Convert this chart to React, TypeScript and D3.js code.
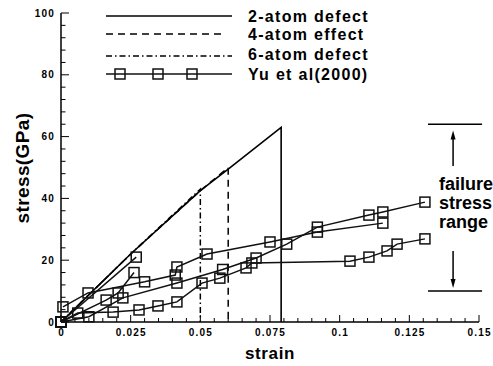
import React from "react";
import * as d3 from "d3";

// ---------- data ----------
const xTicks = [0, 0.025, 0.05, 0.075, 0.1, 0.125, 0.15];
const xTickLabels = ["0", "0.025", "0.05", "0.075", "0.1", "0.125", "0.15"];
const yTicks = [0, 20, 40, 60, 80, 100];
const yTickLabels = ["0", "20", "40", "60", "80", "100"];

const legendLabels = ["2-atom defect", "4-atom effect", "6-atom defect", "Yu et al(2000)"];

const atom2Strain = [0, 0.025, 0.05, 0.06, 0.079, 0.079];
const atom2Stress = [0, 22, 42.5, 49.5, 63, 0];
const atom4Strain = [0, 0.025, 0.05, 0.06, 0.06];
const atom4Stress = [0, 22, 42.5, 50, 0];
const atom6Strain = [0, 0.025, 0.05, 0.05];
const atom6Stress = [0, 22, 43, 0];

const yu1Strain = [0.0007, 0.0097, 0.03, 0.041, 0.0416, 0.0524, 0.075, 0.092, 0.1155];
const yu1Stress = [4.9, 9.4, 13, 15.2, 17.8, 22, 25.9, 29.1, 32];
const yu2Strain = [0, 0.01, 0.0222, 0.0416, 0.058, 0.07, 0.081, 0.092, 0.1105, 0.1155, 0.1306];
const yu2Stress = [0, 1.7, 7.8, 12.6, 17, 20.7, 25.2, 30.7, 34.6, 35.6, 38.8];
const yu3Strain = [0, 0.027];
const yu3Stress = [0, 21];
const yu4Strain = [0, 0.006, 0.0187, 0.028, 0.0348, 0.0416, 0.0506, 0.057, 0.0664, 0.0685, 0.1037, 0.1105, 0.117, 0.1206, 0.1306];
const yu4Stress = [0, 2.9, 3.2, 3.9, 5.2, 6.5, 12.6, 14.2, 17.5, 19.1, 19.7, 21, 23, 25.2, 26.9];
const yu5Strain = [0, 0.0162, 0.0205, 0.0262];
const yu5Stress = [0, 7.1, 9.4, 16];

// failure stress range annotation (data units)
const failureTop = 64;
const failureBottom = 10;
const failureX = [0.1317, 0.1511];
const failureArrowX = 0.1407;
const arrowUp = [50.5, 62];
const arrowDown = [23, 11];
const failureLines = ["failure", "stress", "range"];

// ---------- layout ----------
const W = 493;
const H = 366;
const FONT = "'Liberation Sans', Arial, Helvetica, sans-serif";

const x = d3.scaleLinear().domain([0, 0.15]).range([61, 479]);
const y = d3.scaleLinear().domain([0, 100]).range([322, 13]);

type P = [number, number];
const zip = (a: number[], b: number[]): P[] => a.map((v, i) => [v, b[i]]);
const line = d3
  .line<P>()
  .x((d) => x(d[0]))
  .y((d) => y(d[1]));

const yuSeries = [
  zip(yu1Strain, yu1Stress),
  zip(yu2Strain, yu2Stress),
  zip(yu3Strain, yu3Stress),
  zip(yu4Strain, yu4Stress),
  zip(yu5Strain, yu5Stress),
];

const xMinor = d3.range(0, 0.15 + 1e-9, 0.005);
const yMinor = d3.range(0, 100 + 1e-9, 4);

const SQ = 10;

export default function App() {
  const legendX0 = 106;
  const legendX1 = 232;
  const legendTextX = 248;
  const legendY = [16, 34, 56, 74];
  const legendBase = [21.5, 39.5, 60, 80];

  const Square = ({ cx, cy }: { cx: number; cy: number }) => (
    <rect x={cx - SQ / 2} y={cy - SQ / 2} width={SQ} height={SQ} fill="none" stroke="#111" strokeWidth={1.5} />
  );

  return (
    <svg
      width={W}
      height={H}
      style={{ position: "absolute", left: 0, top: 0, background: "#fff" }}
      fontFamily={FONT}
    >
      <rect width={W} height={H} fill="#fff" />
      {/* axes */}
      <line x1={x(0)} x2={x(0)} y1={y(0)} y2={y(100)} stroke="#000" strokeWidth={1.5} />
      <line x1={x(0)} x2={x(0.15)} y1={y(0)} y2={y(0)} stroke="#000" strokeWidth={1.5} />
      {yMinor.map((v, i) => (
        <line key={"ym" + i} x1={x(0)} x2={x(0) + (v % 20 === 0 ? 8 : 4.5)} y1={y(v)} y2={y(v)} stroke="#000" strokeWidth={1} />
      ))}
      {xMinor.map((v, i) => (
        <line key={"xm" + i} x1={x(v)} x2={x(v)} y1={y(0)} y2={y(0) - (i % 5 === 0 ? 7 : 4)} stroke="#000" strokeWidth={1} />
      ))}
      {yTicks.map((v, i) => (
        <text key={"yt" + i} x={x(0) - 6} y={y(v) + 3.5} textAnchor="end" fontSize={10} fontWeight="bold" letterSpacing={1.2}>
          {yTickLabels[i]}
        </text>
      ))}
      {xTicks.map((v, i) => (
        <text key={"xt" + i} x={x(v) + 0.6} y={336} textAnchor="middle" fontSize={10} fontWeight="bold" letterSpacing={1.2}>
          {xTickLabels[i]}
        </text>
      ))}
      <text x={270} y={359} textAnchor="middle" fontSize={17} fontWeight="bold" letterSpacing={0.6}>
        strain
      </text>
      <text
        transform={`translate(29,168) rotate(-90)`}
        textAnchor="middle"
        fontSize={19}
        fontWeight="bold"
        letterSpacing={0.4}
      >
        stress(GPa)
      </text>

      {/* MD curves */}
      <path d={line(zip(atom6Strain, atom6Stress)) || ""} fill="none" stroke="#000" strokeWidth={1.5} strokeDasharray="6,3,1.5,3" />
      <path d={line(zip(atom4Strain, atom4Stress)) || ""} fill="none" stroke="#000" strokeWidth={1.5} strokeDasharray="7,5" />
      <path d={line(zip(atom2Strain, atom2Stress)) || ""} fill="none" stroke="#000" strokeWidth={1.6} />

      {/* Yu et al data */}
      {yuSeries.map((s, i) => (
        <g key={"yu" + i}>
          <path d={line(s) || ""} fill="none" stroke="#111" strokeWidth={1.5} />
          {s.map((d, j) => (
            <Square key={j} cx={x(d[0])} cy={y(d[1])} />
          ))}
        </g>
      ))}

      {/* legend */}
      <line x1={legendX0} x2={legendX1} y1={legendY[0]} y2={legendY[0]} stroke="#000" strokeWidth={1.5} />
      <line x1={legendX0} x2={legendX1 - 6} y1={legendY[1]} y2={legendY[1]} stroke="#000" strokeWidth={1.5} strokeDasharray="7,5" />
      <line x1={legendX0} x2={legendX1} y1={legendY[2]} y2={legendY[2]} stroke="#000" strokeWidth={1.5} strokeDasharray="6,3,1.5,3" />
      <line x1={legendX0} x2={legendX1} y1={legendY[3]} y2={legendY[3]} stroke="#111" strokeWidth={1.5} />
      {[120, 158, 192].map((cx, i) => (
        <Square key={"ls" + i} cx={cx} cy={legendY[3]} />
      ))}
      {legendLabels.map((t, i) => (
        <text key={"lt" + i} x={legendTextX} y={legendBase[i]} fontSize={16} fontWeight="bold" letterSpacing={1.3}>
          {t}
        </text>
      ))}

      {/* failure stress range */}
      <line x1={x(failureX[0])} x2={x(failureX[1])} y1={y(failureTop)} y2={y(failureTop)} stroke="#000" strokeWidth={1.5} />
      <line x1={x(failureX[0])} x2={x(failureX[1])} y1={y(failureBottom)} y2={y(failureBottom)} stroke="#000" strokeWidth={1.5} />
      <line x1={x(failureArrowX)} x2={x(failureArrowX)} y1={y(arrowUp[0])} y2={y(arrowUp[1]) + 6} stroke="#000" strokeWidth={1.5} />
      <path
        d={`M${x(failureArrowX)},${y(arrowUp[1])} l-2.5,9 l5,0 Z`}
        fill="#000"
      />
      <line x1={x(failureArrowX)} x2={x(failureArrowX)} y1={y(arrowDown[0])} y2={y(arrowDown[1]) - 6} stroke="#000" strokeWidth={1.5} />
      <path
        d={`M${x(failureArrowX)},${y(arrowDown[1])} l-2.5,-9 l5,0 Z`}
        fill="#000"
      />
      {failureLines.map((t, i) => (
        <text key={"fl" + i} x={439} y={190 + i * 19} fontSize={18} fontWeight="bold">
          {t}
        </text>
      ))}
    </svg>
  );
}
